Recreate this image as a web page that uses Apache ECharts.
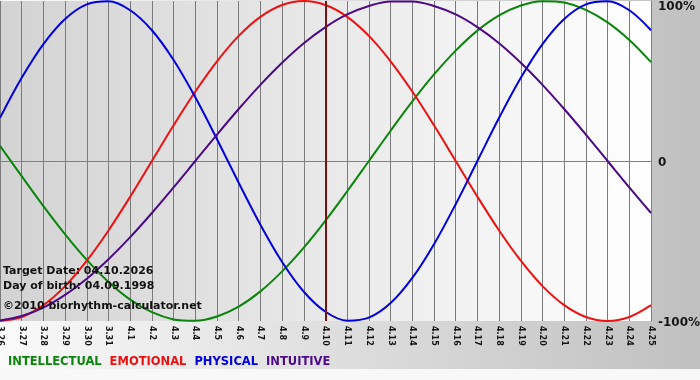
<!DOCTYPE html>
<html>
<head>
<meta charset="utf-8">
<script src="https://cdn.jsdelivr.net/npm/echarts@6/dist/echarts.min.js"></script>
<style>
html,body{margin:0;padding:0;}
#chart{width:700px;height:380px;}
</style>
</head>
<body>
<div id="chart"></div>
<script>
// Categories (month.day)
var days = ['3.26','3.27','3.28','3.29','3.30','3.31','4.1','4.2','4.3','4.4','4.5','4.6','4.7','4.8','4.9','4.10','4.11','4.12','4.13','4.14','4.15','4.16','4.17','4.18','4.19','4.20','4.21','4.22','4.23','4.24','4.25'];
var targetDay = '4.10';

// Series values (percent), read per day
var intellectual = [9.5,-9.5,-28.2,-45.8,-61.8,-75.6,-86.6,-94.5,-99.0,-99.9,-97.2,-91.0,-81.5,-69.0,-54.1,-37.2,-18.9,0,18.9,37.2,54.1,69.0,81.5,91.0,97.2,99.9,99.0,94.5,86.6,75.6,61.8];
var emotional = [-100,-97.5,-90.1,-78.2,-62.3,-43.4,-22.3,0,22.3,43.4,62.3,78.2,90.1,97.5,100,97.5,90.1,78.2,62.3,43.4,22.3,0,-22.3,-43.4,-62.3,-78.2,-90.1,-97.5,-100,-97.5,-90.1];
var physical = [27.0,52.0,73.1,88.8,97.9,99.8,94.2,81.7,63.1,39.8,13.6,-13.6,-39.8,-63.1,-81.7,-94.2,-99.8,-97.9,-88.8,-73.1,-52.0,-27.0,0,27.0,52.0,73.1,88.8,97.9,99.8,94.2,81.7];
var intuitive = [-99.7,-96.9,-91.6,-83.7,-73.6,-61.4,-47.6,-32.5,-16.5,0,16.5,32.5,47.6,61.4,73.6,83.7,91.6,96.9,99.7,99.7,96.9,91.6,83.7,73.6,61.4,47.6,32.5,16.5,0,-16.5,-32.5];

var seriesNames = ['INTELLECTUAL','EMOTIONAL','PHYSICAL','INTUITIVE'];
var seriesColors = ['#0b850b','#ee1111','#0000dd','#4b0a86'];
var yTicks = [-100, 0, 100];
var infoLines = ['Target Date: 04.10.2026','Day of birth: 04.09.1998','©2010 biorhythm-calculator.net'];

var FONT = 'DejaVu Sans';
var chart = echarts.init(document.getElementById('chart'), null, {renderer:'canvas'});
var dataArr = [intellectual, emotional, physical, intuitive];

var series = seriesNames.map(function(n, i){
  var s = {
    name: n, type: 'line', data: dataArr[i], smooth: 0.35, symbol: 'none',
    lineStyle: {color: seriesColors[i], width: 2}, itemStyle:{color: seriesColors[i]},
    silent: true, animation: false, z: 3
  };
  if (i === 0) {
    s.markLine = {
      silent: true, symbol: ['none','none'], label: {show:false},
      lineStyle: {color: '#7a1212', width: 2, type: 'solid'},
      data: [{xAxis: targetDay}], animation: false
    };
  }
  return s;
});

var option = {
  animation: false,
  backgroundColor: new echarts.graphic.LinearGradient(0,0,1,0,[{offset:0,color:'#fafafa'},{offset:1,color:'#c0c0c0'}]),
  grid: {
    left: 0, right: 49, top: 1, bottom: 59, show: true, borderWidth: 0,
    outerBoundsMode: 'none', containLabel: false,
    backgroundColor: new echarts.graphic.LinearGradient(0,0,1,0,[{offset:0,color:'#d3d3d3'},{offset:1,color:'#ffffff'}])
  },
  legend: {
    data: seriesNames.map(function(n,i){ return {name:n, icon:'none', textStyle:{color:seriesColors[i]}}; }),
    left: 3, top: 356, padding: 0, itemWidth: 0, itemHeight: 0, itemGap: 3,
    selectedMode: false,
    textStyle: {fontFamily: FONT, fontWeight: 'bold', fontSize: 11.5}
  },
  xAxis: {
    type: 'category', data: days, boundaryGap: false,
    axisLine: {show: true, lineStyle: {color: '#808080', width: 1}},
    axisTick: {show: true, length: 5, lineStyle: {color: '#808080'}},
    splitLine: {show: true, lineStyle: {color: '#7a7a7a', width: 1}},
    axisLabel: {rotate: -90, interval: 0, margin: 5, fontSize: 8, fontWeight: 'bold', fontFamily: FONT, color: '#151515', hideOverlap: false}
  },
  yAxis: {
    type: 'value', position: 'right', min: -100, max: 100, interval: 100,
    axisLine: {show: true, lineStyle: {color: '#808080', width: 1}},
    axisTick: {show: false},
    splitLine: {show: true, lineStyle: {color: ['transparent','#808080','transparent'], width: 1}},
    axisLabel: {
      margin: 7, fontFamily: FONT, fontWeight: 'bold', fontSize: 12, color: '#151515',
      formatter: function(v){
        if (v === 100) return '{t|100%}';
        if (v === 0) return '{a|0}';
        return '{a|' + v + '%}';
      },
      rich: {
        t: {padding: [12,0,0,0], fontFamily: FONT, fontWeight: 'bold', fontSize: 12, color: '#151515'},
        a: {padding: [3,0,0,0], fontFamily: FONT, fontWeight: 'bold', fontSize: 12, color: '#151515'}
      }
    }
  },
  graphic: [
    {type:'rect', left: 0, top: 369, shape:{width:700, height:11}, style:{fill:'#f8f8f8'}, z: -10, silent: true},
    {type:'text', left: 3, top: 266, z: 100, silent: true, style:{text: infoLines[0], font: 'bold 11px "DejaVu Sans"', fill:'#111'}},
    {type:'text', left: 3, top: 281, z: 100, silent: true, style:{text: infoLines[1], font: 'bold 11px "DejaVu Sans"', fill:'#111'}},
    {type:'text', left: 3, top: 301, z: 100, silent: true, style:{text: infoLines[2], font: 'bold 11px "DejaVu Sans"', fill:'#111'}}
  ],
  series: series
};
chart.setOption(option);
</script>
</body>
</html>
